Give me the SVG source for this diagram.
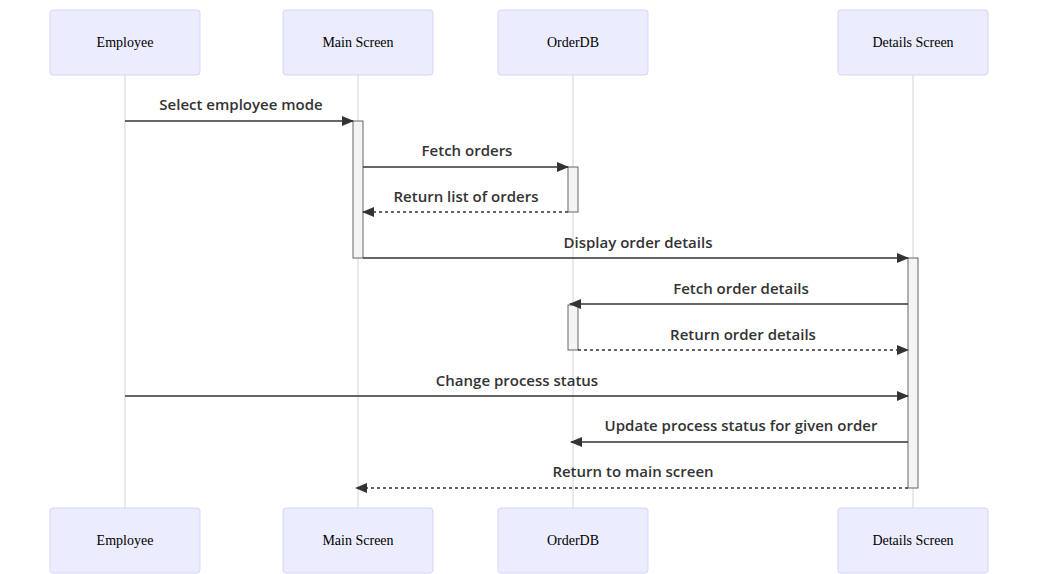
<svg xmlns="http://www.w3.org/2000/svg" width="1038" height="574" viewBox="0 0 1038 574">
<style>
.actor{fill:#ECECFF;stroke:#D9D3F5;stroke-width:1}
.atext{font-family:"Liberation Serif",serif;font-size:14px;fill:#000;text-anchor:middle;dominant-baseline:central}
.life{stroke:#D3D3D3;stroke-width:1}
.act{fill:#F4F4F4;stroke:#666;stroke-width:1}
.msg{stroke:#333;stroke-width:1.5;fill:none}
.dash{stroke-dasharray:3,3}
.mtext{font-family:"Open Sans","DejaVu Sans",sans-serif;font-weight:600;font-size:15px;fill:#333;text-anchor:middle}
</style>
<defs>
<marker id="ah" viewBox="0 0 12 12" refX="11" refY="6" markerWidth="12" markerHeight="12" markerUnits="userSpaceOnUse" orient="auto">
<path d="M0,1 L12,6 L0,11 z" fill="#333"/>
</marker>
</defs>
<g id="lifelines">
<line class="life" x1="125" y1="75" x2="125" y2="508"/>
<line class="life" x1="358" y1="75" x2="358" y2="508"/>
<line class="life" x1="573" y1="75" x2="573" y2="508"/>
<line class="life" x1="913" y1="75" x2="913" y2="508"/>
</g>
<g id="actor-employee-top"><rect class="actor" x="50" y="10" width="150" height="65" rx="3"/><text class="atext" x="125" y="42.5">Employee</text></g>
<g id="actor-main-top"><rect class="actor" x="283" y="10" width="150" height="65" rx="3"/><text class="atext" x="358" y="42.5">Main Screen</text></g>
<g id="actor-orderdb-top"><rect class="actor" x="498" y="10" width="150" height="65" rx="3"/><text class="atext" x="573" y="42.5">OrderDB</text></g>
<g id="actor-details-top"><rect class="actor" x="838" y="10" width="150" height="65" rx="3"/><text class="atext" x="913" y="42.5">Details Screen</text></g>
<g id="actor-employee-bottom"><rect class="actor" x="50" y="508" width="150" height="65" rx="3"/><text class="atext" x="125" y="540.5">Employee</text></g>
<g id="actor-main-bottom"><rect class="actor" x="283" y="508" width="150" height="65" rx="3"/><text class="atext" x="358" y="540.5">Main Screen</text></g>
<g id="actor-orderdb-bottom"><rect class="actor" x="498" y="508" width="150" height="65" rx="3"/><text class="atext" x="573" y="540.5">OrderDB</text></g>
<g id="actor-details-bottom"><rect class="actor" x="838" y="508" width="150" height="65" rx="3"/><text class="atext" x="913" y="540.5">Details Screen</text></g>
<g id="activations">
<rect class="act" x="353" y="121" width="10" height="137"/>
<rect class="act" x="568" y="167" width="10" height="45"/>
<rect class="act" x="908" y="258" width="10" height="230"/>
<rect class="act" x="568" y="305" width="10" height="45"/>
</g>
<g id="connectors">
<line class="msg" x1="125" y1="121" x2="353" y2="121" marker-end="url(#ah)"/>
<line class="msg" x1="363" y1="167" x2="568" y2="167" marker-end="url(#ah)"/>
<line class="msg dash" x1="568" y1="212" x2="363" y2="212" marker-end="url(#ah)"/>
<line class="msg" x1="363" y1="258" x2="908" y2="258" marker-end="url(#ah)"/>
<line class="msg" x1="908" y1="304" x2="570" y2="304" marker-end="url(#ah)"/>
<line class="msg dash" x1="578" y1="350" x2="908" y2="350" marker-end="url(#ah)"/>
<line class="msg" x1="125" y1="396" x2="908" y2="396" marker-end="url(#ah)"/>
<line class="msg" x1="908" y1="442" x2="571" y2="442" marker-end="url(#ah)"/>
<line class="msg dash" x1="908" y1="488" x2="356" y2="488" marker-end="url(#ah)"/>
</g>
<g id="labels">
<text class="mtext" x="241" y="110">Select employee mode</text>
<text class="mtext" x="467" y="156">Fetch orders</text>
<text class="mtext" x="466" y="202">Return list of orders</text>
<text class="mtext" x="638" y="248">Display order details</text>
<text class="mtext" x="741" y="294">Fetch order details</text>
<text class="mtext" x="743" y="340">Return order details</text>
<text class="mtext" x="517" y="386">Change process status</text>
<text class="mtext" x="741" y="431">Update process status for given order</text>
<text class="mtext" x="633" y="477">Return to main screen</text>
</g>
</svg>
